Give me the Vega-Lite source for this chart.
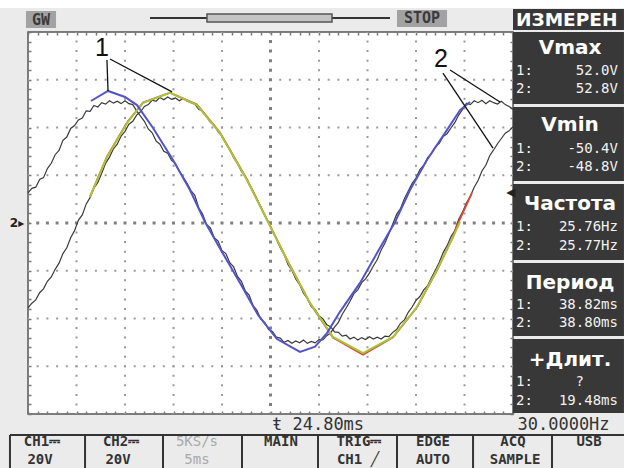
{
"$schema": "https://vega.github.io/schema/vega-lite/v6.json",
"width": 485, "height": 382,
"autosize": {"type": "none"},
"padding": {"left": 28, "top": 32, "right": 111, "bottom": 54},
"background": "#ebebeb",
"config": {"view": {"fill": "white", "stroke": "#555555", "strokeWidth": 1.5}},
"resolve": {"axis": {"x": "independent", "y": "independent"}},
"datasets": {
"whiteband": [{"x": -2.89, "x2": 61.44, "y": 93.4, "y2": 90.05}],
"gridV": [{"t": 5}, {"t": 10}, {"t": 15}, {"t": 20}, {"t": 30}, {"t": 35}, {"t": 40}, {"t": 45}],
"gridH": [{"v": -60}, {"v": -40}, {"v": -20}, {"v": 20}, {"v": 40}, {"v": 60}],
"centerV": [{"t": 25}],
"centerH": [{"v": 0}],
"ch1": [{"t":0.0,"v":12.6},{"t":0.4,"v":14.5},{"t":0.8,"v":15.0},{"t":1.2,"v":18.2},{"t":1.6,"v":19.0},{"t":2.0,"v":22.8},{"t":2.4,"v":25.0},{"t":2.8,"v":28.6},{"t":3.2,"v":30.4},{"t":3.6,"v":34.6},{"t":4.0,"v":36.0},{"t":4.4,"v":39.6},{"t":4.8,"v":40.8},{"t":5.2,"v":43.2},{"t":5.6,"v":44.0},{"t":6.0,"v":47.0},{"t":6.4,"v":46.8},{"t":6.8,"v":49.2},{"t":7.2,"v":48.6},{"t":7.6,"v":50.4},{"t":8.0,"v":49.8},{"t":8.4,"v":51.2},{"t":8.8,"v":50.2},{"t":9.2,"v":51.0},{"t":9.6,"v":50.0},{"t":10.0,"v":51.2},{"t":10.4,"v":50.0},{"t":10.8,"v":49.6},{"t":11.2,"v":47.0},{"t":11.6,"v":44.8},{"t":12.0,"v":42.6},{"t":12.4,"v":39.4},{"t":12.8,"v":37.8},{"t":13.2,"v":34.4},{"t":13.6,"v":33.0},{"t":14.0,"v":30.0},{"t":14.4,"v":29.2},{"t":14.8,"v":26.2},{"t":15.2,"v":25.0},{"t":15.6,"v":21.6},{"t":16.0,"v":19.2},{"t":16.4,"v":16.6},{"t":16.8,"v":13.6},{"t":17.2,"v":11.6},{"t":17.6,"v":6.4},{"t":18.0,"v":3.8},{"t":18.4,"v":-0.6},{"t":18.8,"v":-2.0},{"t":19.2,"v":-6.2},{"t":19.6,"v":-7.6},{"t":20.0,"v":-11.6},{"t":20.4,"v":-12.8},{"t":20.8,"v":-16.6},{"t":21.2,"v":-18.4},{"t":21.6,"v":-22.4},{"t":22.0,"v":-24.4},{"t":22.4,"v":-28.4},{"t":22.8,"v":-30.2},{"t":23.2,"v":-34.6},{"t":23.6,"v":-36.6},{"t":24.0,"v":-40.2},{"t":24.4,"v":-41.6},{"t":24.8,"v":-44.6},{"t":25.2,"v":-45.4},{"t":25.6,"v":-47.8},{"t":26.0,"v":-48.2},{"t":26.4,"v":-50.0},{"t":26.8,"v":-49.2},{"t":27.2,"v":-50.4},{"t":27.6,"v":-49.4},{"t":28.0,"v":-50.2},{"t":28.4,"v":-49.0},{"t":28.8,"v":-50.4},{"t":29.2,"v":-49.6},{"t":29.6,"v":-50.2},{"t":30.0,"v":-48.8},{"t":30.4,"v":-49.0},{"t":30.8,"v":-47.2},{"t":31.2,"v":-46.0},{"t":31.6,"v":-43.6},{"t":32.0,"v":-41.6},{"t":32.4,"v":-38.2},{"t":32.8,"v":-35.6},{"t":33.2,"v":-32.8},{"t":33.6,"v":-29.6},{"t":34.0,"v":-28.0},{"t":34.4,"v":-25.0},{"t":34.8,"v":-23.4},{"t":35.2,"v":-21.0},{"t":35.6,"v":-18.0},{"t":36.0,"v":-15.4},{"t":36.4,"v":-11.4},{"t":36.8,"v":-8.4},{"t":37.2,"v":-4.6},{"t":37.6,"v":-0.4},{"t":38.0,"v":3.6},{"t":38.4,"v":6.0},{"t":38.8,"v":10.2},{"t":39.2,"v":13.4},{"t":39.6,"v":16.6},{"t":40.0,"v":18.8},{"t":40.4,"v":22.4},{"t":40.8,"v":24.2},{"t":41.2,"v":27.4},{"t":41.6,"v":29.2},{"t":42.0,"v":32.0},{"t":42.4,"v":33.4},{"t":42.8,"v":36.2},{"t":43.2,"v":37.4},{"t":43.6,"v":39.8},{"t":44.0,"v":42.0},{"t":44.4,"v":45.2},{"t":44.8,"v":47.6},{"t":45.2,"v":50.2},{"t":45.6,"v":49.6},{"t":46.0,"v":51.2},{"t":46.4,"v":50.4},{"t":46.8,"v":51.4},{"t":47.2,"v":50.0},{"t":47.6,"v":51.2},{"t":48.0,"v":50.4},{"t":48.4,"v":49.8},{"t":48.8,"v":51.0},{"t":49.2,"v":49.6},{"t":49.6,"v":48.8},{"t":50.0,"v":47.6}],
"ch2": [{"t":0.0,"v":-35.6},{"t":0.4,"v":-33.6},{"t":0.8,"v":-32.2},{"t":1.2,"v":-29.2},{"t":1.6,"v":-27.6},{"t":2.0,"v":-24.4},{"t":2.4,"v":-22.6},{"t":2.8,"v":-19.4},{"t":3.2,"v":-16.8},{"t":3.6,"v":-12.8},{"t":4.0,"v":-10.4},{"t":4.4,"v":-6.2},{"t":4.8,"v":-3.2},{"t":5.2,"v":1.2},{"t":5.6,"v":3.4},{"t":6.0,"v":8.0},{"t":6.4,"v":10.6},{"t":6.8,"v":14.6},{"t":7.2,"v":17.0},{"t":7.6,"v":20.8},{"t":8.0,"v":25.0},{"t":8.4,"v":27.6},{"t":8.8,"v":31.0},{"t":9.2,"v":33.0},{"t":9.6,"v":36.4},{"t":10.0,"v":38.4},{"t":10.4,"v":41.4},{"t":10.8,"v":42.6},{"t":11.2,"v":45.2},{"t":11.6,"v":46.6},{"t":12.0,"v":48.8},{"t":12.4,"v":49.6},{"t":12.8,"v":51.4},{"t":13.2,"v":51.0},{"t":13.6,"v":52.6},{"t":14.0,"v":51.6},{"t":14.4,"v":52.8},{"t":14.8,"v":51.8},{"t":15.2,"v":52.4},{"t":15.6,"v":51.2},{"t":16.0,"v":52.2},{"t":16.4,"v":51.0},{"t":16.8,"v":50.4},{"t":17.2,"v":49.8},{"t":17.6,"v":47.6},{"t":18.0,"v":46.8},{"t":18.4,"v":44.6},{"t":18.8,"v":42.2},{"t":19.2,"v":41.0},{"t":19.6,"v":38.2},{"t":20.0,"v":36.4},{"t":20.4,"v":33.2},{"t":20.8,"v":31.0},{"t":21.2,"v":27.4},{"t":21.6,"v":25.0},{"t":22.0,"v":21.6},{"t":22.4,"v":19.6},{"t":22.8,"v":16.0},{"t":23.2,"v":13.4},{"t":23.6,"v":10.0},{"t":24.0,"v":6.8},{"t":24.4,"v":3.2},{"t":24.8,"v":0.2},{"t":25.2,"v":-3.6},{"t":25.6,"v":-6.6},{"t":26.0,"v":-10.4},{"t":26.4,"v":-13.2},{"t":26.8,"v":-17.4},{"t":27.2,"v":-19.8},{"t":27.6,"v":-23.4},{"t":28.0,"v":-25.8},{"t":28.4,"v":-29.4},{"t":28.8,"v":-31.6},{"t":29.2,"v":-35.0},{"t":29.6,"v":-36.2},{"t":30.0,"v":-38.8},{"t":30.4,"v":-40.2},{"t":30.8,"v":-42.6},{"t":31.2,"v":-43.4},{"t":31.6,"v":-45.6},{"t":32.0,"v":-45.8},{"t":32.4,"v":-47.4},{"t":32.8,"v":-47.0},{"t":33.2,"v":-48.6},{"t":33.6,"v":-47.8},{"t":34.0,"v":-49.0},{"t":34.4,"v":-48.0},{"t":34.8,"v":-48.8},{"t":35.2,"v":-47.6},{"t":35.6,"v":-48.6},{"t":36.0,"v":-47.8},{"t":36.4,"v":-48.6},{"t":36.8,"v":-47.4},{"t":37.2,"v":-47.6},{"t":37.6,"v":-45.8},{"t":38.0,"v":-44.6},{"t":38.4,"v":-42.0},{"t":38.8,"v":-40.6},{"t":39.2,"v":-37.4},{"t":39.6,"v":-35.2},{"t":40.0,"v":-32.4},{"t":40.4,"v":-30.8},{"t":40.8,"v":-28.0},{"t":41.2,"v":-26.2},{"t":41.6,"v":-22.8},{"t":42.0,"v":-19.8},{"t":42.4,"v":-16.4},{"t":42.8,"v":-12.4},{"t":43.2,"v":-9.6},{"t":43.6,"v":-5.8},{"t":44.0,"v":-3.2},{"t":44.4,"v":1.6},{"t":44.8,"v":4.6},{"t":45.2,"v":8.4},{"t":45.6,"v":11.2},{"t":46.0,"v":15.0},{"t":46.4,"v":17.8},{"t":46.8,"v":21.8},{"t":47.2,"v":24.2},{"t":47.6,"v":28.2},{"t":48.0,"v":30.6},{"t":48.4,"v":33.2},{"t":48.8,"v":35.4},{"t":49.2,"v":37.6},{"t":49.6,"v":38.6},{"t":50.0,"v":40.4}],
"fitRed": [{"t":6.39,"v":11.1},{"t":8.14,"v":27.8},{"t":10.21,"v":42.1},{"t":11.86,"v":50.5},{"t":14.64,"v":54.6},{"t":17.42,"v":49.6},{"t":19.79,"v":37.9},{"t":22.58,"v":18.2},{"t":24.64,"v":1.4},{"t":26.7,"v":-15.4},{"t":29.07,"v":-33.6},{"t":31.44,"v":-48.0},{"t":34.54,"v":-55.2},{"t":37.63,"v":-47.9},{"t":40.1,"v":-35.3},{"t":42.16,"v":-19.8},{"t":43.81,"v":-5.9},{"t":44.23,"v":-1.0},{"t":45.77,"v":12.6}],
"fitYellow": [{"t":6.39,"v":10.9},{"t":8.14,"v":27.6},{"t":10.21,"v":41.9},{"t":11.86,"v":50.3},{"t":14.64,"v":54.5},{"t":17.42,"v":49.4},{"t":19.79,"v":37.7},{"t":22.58,"v":18.0},{"t":24.64,"v":1.3},{"t":26.7,"v":-15.5},{"t":29.07,"v":-33.5},{"t":31.44,"v":-47.7},{"t":34.54,"v":-54.5},{"t":37.63,"v":-47.7},{"t":40.1,"v":-35.2},{"t":42.16,"v":-19.7},{"t":43.81,"v":-5.9},{"t":44.54,"v":0.4}],
"fitBlue": [{"t":6.49,"v":51.1},{"t":8.25,"v":55.3},{"t":10.0,"v":52.8},{"t":11.24,"v":49.4},{"t":12.89,"v":39.8},{"t":14.95,"v":26.4},{"t":16.7,"v":13.8},{"t":18.25,"v":0.4},{"t":20.0,"v":-12.1},{"t":21.86,"v":-25.1},{"t":23.71,"v":-38.5},{"t":25.67,"v":-48.6},{"t":28.04,"v":-54.0},{"t":29.59,"v":-51.8},{"t":30.82,"v":-46.1},{"t":32.16,"v":-37.2},{"t":34.23,"v":-25.1},{"t":35.98,"v":-12.6},{"t":37.84,"v":0.4},{"t":39.38,"v":13.8},{"t":41.13,"v":26.4},{"t":43.2,"v":39.0},{"t":44.54,"v":47.3},{"t":45.57,"v":50.7}],
"leaders": [{"x":8.14,"y":68.3,"x2":8.25,"y2":55.3},{"x":8.45,"y":68.7,"x2":14.85,"y2":54.9},{"x":43.51,"y":64.1,"x2":48.66,"y2":50.7},{"x":42.78,"y":62.8,"x2":47.94,"y2":31.4}],
"leaderLabels": [{"x":7.63,"y":73.5,"label":"1"},{"x":42.58,"y":68.9,"label":"2"}],
"panels": [{"x":50.0,"x2":61.44,"y":89.63,"y2":80.84},{"x":50.0,"x2":61.44,"y":80.0,"y2":49.84},{"x":50.0,"x2":61.44,"y":48.59,"y2":17.59},{"x":50.0,"x2":61.44,"y":16.34,"y2":-15.5},{"x":50.0,"x2":61.44,"y":-16.75,"y2":-47.33},{"x":50.0,"x2":61.44,"y":-48.59,"y2":-79.58}],
"grayBoxes": [{"x":-0.21,"x2":2.89,"y":88.8,"y2":81.68},{"x":38.04,"x2":43.2,"y":89.21,"y2":82.09}],
"slider": [{"x":18.45,"x2":31.34,"y":87.54,"y2":84.19}],
"topLine": [{"x":12.58,"x2":37.32,"y":85.86,"y2":85.86}],
"topTexts": [{"x":1.34,"y":85.03,"label":"GW"},{"x":40.62,"y":85.86,"label":"STOP"}],
"header": [{"x":50.31,"y":85.03,"label":"ИЗМЕРЕН"}],
"titles": [{"x":55.88,"y":73.3,"label":"Vmax"},{"x":55.88,"y":41.05,"label":"Vmin"},{"x":55.88,"y":7.96,"label":"Частота"},{"x":55.88,"y":-25.13,"label":"Период"},{"x":55.88,"y":-57.38,"label":"+Длит."}],
"prefixes": [{"x":50.31,"y":63.46,"label":"1:"},{"x":50.31,"y":55.92,"label":"2:"},{"x":50.31,"y":30.79,"label":"1:"},{"x":50.31,"y":23.25,"label":"2:"},{"x":50.31,"y":-1.88,"label":"1:"},{"x":50.31,"y":-9.84,"label":"2:"},{"x":50.31,"y":-34.55,"label":"1:"},{"x":50.31,"y":-42.09,"label":"2:"},{"x":50.31,"y":-66.39,"label":"1:"},{"x":50.31,"y":-74.35,"label":"2:"}],
"values": [{"x":60.82,"y":63.46,"label":"52.0V"},{"x":60.82,"y":55.92,"label":"52.8V"},{"x":60.82,"y":30.79,"label":"-50.4V"},{"x":60.82,"y":23.25,"label":"-48.8V"},{"x":60.82,"y":-1.88,"label":"25.76Hz"},{"x":60.82,"y":-9.84,"label":"25.77Hz"},{"x":60.82,"y":-34.55,"label":"38.82ms"},{"x":60.82,"y":-42.09,"label":"38.80ms"},{"x":57.32,"y":-66.39,"label":"?"},{"x":60.82,"y":-74.35,"label":"19.48ms"}],
"info": [{"x":29.9,"y":-84.61,"label":"ŧ 24.80ms"},{"x":55.21,"y":-84.61,"label":"30.0000Hz"}],
"buttonLines": [{"x":-1.86,"x2":61.44,"y":-88.8,"y2":-88.8},{"x":-1.86,"x2":-1.86,"y":-88.8,"y2":-102.62},{"x":5.88,"x2":5.88,"y":-88.8,"y2":-102.62},{"x":13.92,"x2":13.92,"y":-88.8,"y2":-102.62},{"x":22.06,"x2":22.06,"y":-88.8,"y2":-102.62},{"x":29.9,"x2":29.9,"y":-88.8,"y2":-102.62},{"x":38.04,"x2":38.04,"y":-88.8,"y2":-102.62},{"x":45.88,"x2":45.88,"y":-88.8,"y2":-102.62},{"x":54.02,"x2":54.02,"y":-88.8,"y2":-102.62}],
"buttons": [{"x":1.44,"y":-91.73,"label":"CH1⎓"},{"x":9.59,"y":-91.73,"label":"CH2⎓"},{"x":26.08,"y":-91.73,"label":"MAIN"},{"x":34.12,"y":-91.73,"label":"TRIG⎓"},{"x":41.75,"y":-91.73,"label":"EDGE"},{"x":50.0,"y":-91.73,"label":"ACQ"},{"x":57.84,"y":-91.73,"label":"USB"},{"x":1.24,"y":-99.06,"label":"20V"},{"x":9.28,"y":-99.06,"label":"20V"},{"x":34.02,"y":-99.06,"label":"CH1 ╱"},{"x":41.75,"y":-99.06,"label":"AUTO"},{"x":50.21,"y":-99.06,"label":"SAMPLE"}],
"buttonsGray": [{"x":17.42,"y":-91.73,"label":"5KS/s"},{"x":17.42,"y":-99.06,"label":"5ms"}],
"markers": [{"x":-1.13,"y":0,"label":"2▸"},{"x":49.79,"y":12.98,"label":"◀"}]
},
"layer": [
{"data": {"name": "whiteband"}, "mark": {"type": "rect", "fill": "white", "clip": false},
 "encoding": {"x": {"field": "x", "type": "quantitative", "scale": {"domain": [0, 50], "nice": false, "zero": false}, "axis": null}, "x2": {"field": "x2"}, "y": {"field": "y", "type": "quantitative", "scale": {"domain": [-80, 80], "nice": false, "zero": false}, "axis": null}, "y2": {"field": "y2"}}},
{"data": {"name": "gridV"}, "mark": {"type": "rule", "color": "#9a9a9a", "strokeWidth": 2, "strokeDash": [2, 7.55], "strokeDashOffset": 1},
 "encoding": {"x": {"field": "t", "type": "quantitative", "scale": {"domain": [0, 50], "nice": false, "zero": false}, "axis": {"orient": "bottom", "values": [0,1,2,3,4,5,6,7,8,9,10,11,12,13,14,15,16,17,18,19,20,21,22,23,24,25,26,27,28,29,30,31,32,33,34,35,36,37,38,39,40,41,42,43,44,45,46,47,48,49,50], "labels": false, "grid": false, "domain": false, "ticks": true, "tickSize": -3, "tickColor": "#777777", "tickWidth": 1.5, "title": null}}}},
{"data": {"name": "gridH"}, "mark": {"type": "rule", "color": "#9a9a9a", "strokeWidth": 2, "strokeDash": [2, 7.7], "strokeDashOffset": 1},
 "encoding": {"y": {"field": "v", "type": "quantitative", "scale": {"domain": [-80, 80], "nice": false, "zero": false}, "axis": {"orient": "left", "values": [-80,-76,-72,-68,-64,-60,-56,-52,-48,-44,-40,-36,-32,-28,-24,-20,-16,-12,-8,-4,0,4,8,12,16,20,24,28,32,36,40,44,48,52,56,60,64,68,72,76,80], "labels": false, "grid": false, "domain": false, "ticks": true, "tickSize": -3, "tickColor": "#777777", "tickWidth": 1.5, "title": null}}}},
{"data": {"name": "centerV"}, "mark": {"type": "rule", "color": "#808080", "strokeWidth": 3, "strokeDash": [3, 6.55], "strokeDashOffset": 1.5},
 "encoding": {"x": {"field": "t", "type": "quantitative", "scale": {"domain": [0, 50], "nice": false, "zero": false}, "axis": {"orient": "top", "values": [0,1,2,3,4,5,6,7,8,9,10,11,12,13,14,15,16,17,18,19,20,21,22,23,24,25,26,27,28,29,30,31,32,33,34,35,36,37,38,39,40,41,42,43,44,45,46,47,48,49,50], "labels": false, "grid": false, "domain": false, "ticks": true, "tickSize": -3, "tickColor": "#777777", "tickWidth": 1.5, "title": null}}}},
{"data": {"name": "centerH"}, "mark": {"type": "rule", "color": "#808080", "strokeWidth": 3, "strokeDash": [3, 6.7], "strokeDashOffset": 1.5},
 "encoding": {"y": {"field": "v", "type": "quantitative", "scale": {"domain": [-80, 80], "nice": false, "zero": false}, "axis": {"orient": "right", "values": [-80,-76,-72,-68,-64,-60,-56,-52,-48,-44,-40,-36,-32,-28,-24,-20,-16,-12,-8,-4,0,4,8,12,16,20,24,28,32,36,40,44,48,52,56,60,64,68,72,76,80], "labels": false, "grid": false, "domain": false, "ticks": true, "tickSize": -3, "tickColor": "#777777", "tickWidth": 1.5, "title": null}}}},
{"data": {"name": "ch1"}, "mark": {"type": "line", "color": "#3a3a3a", "strokeWidth": 1.2},
 "encoding": {"x": {"field": "t", "type": "quantitative", "scale": {"domain": [0, 50], "nice": false, "zero": false}, "axis": null}, "y": {"field": "v", "type": "quantitative", "scale": {"domain": [-80, 80], "nice": false, "zero": false}, "axis": null}}},
{"data": {"name": "ch2"}, "mark": {"type": "line", "color": "#3a3a3a", "strokeWidth": 1.2},
 "encoding": {"x": {"field": "t", "type": "quantitative", "scale": {"domain": [0, 50], "nice": false, "zero": false}, "axis": null}, "y": {"field": "v", "type": "quantitative", "scale": {"domain": [-80, 80], "nice": false, "zero": false}, "axis": null}}},
{"data": {"name": "fitRed"}, "mark": {"type": "line", "color": "#d9452f", "strokeWidth": 1.8},
 "encoding": {"x": {"field": "t", "type": "quantitative", "scale": {"domain": [0, 50], "nice": false, "zero": false}, "axis": null}, "y": {"field": "v", "type": "quantitative", "scale": {"domain": [-80, 80], "nice": false, "zero": false}, "axis": null}}},
{"data": {"name": "fitYellow"}, "mark": {"type": "line", "color": "#a9c43a", "strokeWidth": 2},
 "encoding": {"x": {"field": "t", "type": "quantitative", "scale": {"domain": [0, 50], "nice": false, "zero": false}, "axis": null}, "y": {"field": "v", "type": "quantitative", "scale": {"domain": [-80, 80], "nice": false, "zero": false}, "axis": null}}},
{"data": {"name": "fitBlue"}, "mark": {"type": "line", "color": "#5454c8", "strokeWidth": 2},
 "encoding": {"x": {"field": "t", "type": "quantitative", "scale": {"domain": [0, 50], "nice": false, "zero": false}, "axis": null}, "y": {"field": "v", "type": "quantitative", "scale": {"domain": [-80, 80], "nice": false, "zero": false}, "axis": null}}},
{"data": {"name": "leaders"}, "mark": {"type": "rule", "color": "#111111", "strokeWidth": 1.3, "clip": false},
 "encoding": {"x": {"field": "x", "type": "quantitative", "scale": {"domain": [0, 50], "nice": false, "zero": false}, "axis": null}, "x2": {"field": "x2"}, "y": {"field": "y", "type": "quantitative", "scale": {"domain": [-80, 80], "nice": false, "zero": false}, "axis": null}, "y2": {"field": "y2"}}},
{"data": {"name": "leaderLabels"}, "mark": {"type": "text", "font": "Liberation Sans", "fontSize": 25, "color": "#111111", "align": "center", "baseline": "middle", "clip": false},
 "encoding": {"x": {"field": "x", "type": "quantitative", "scale": {"domain": [0, 50], "nice": false, "zero": false}, "axis": null}, "y": {"field": "y", "type": "quantitative", "scale": {"domain": [-80, 80], "nice": false, "zero": false}, "axis": null}, "text": {"field": "label"}}},
{"data": {"name": "panels"}, "mark": {"type": "rect", "fill": "#383838", "clip": false},
 "encoding": {"x": {"field": "x", "type": "quantitative", "scale": {"domain": [0, 50], "nice": false, "zero": false}, "axis": null}, "x2": {"field": "x2"}, "y": {"field": "y", "type": "quantitative", "scale": {"domain": [-80, 80], "nice": false, "zero": false}, "axis": null}, "y2": {"field": "y2"}}},
{"data": {"name": "grayBoxes"}, "mark": {"type": "rect", "fill": "#a2a2a2", "clip": false},
 "encoding": {"x": {"field": "x", "type": "quantitative", "scale": {"domain": [0, 50], "nice": false, "zero": false}, "axis": null}, "x2": {"field": "x2"}, "y": {"field": "y", "type": "quantitative", "scale": {"domain": [-80, 80], "nice": false, "zero": false}, "axis": null}, "y2": {"field": "y2"}}},
{"data": {"name": "topLine"}, "mark": {"type": "rule", "color": "#333333", "strokeWidth": 2, "clip": false},
 "encoding": {"x": {"field": "x", "type": "quantitative", "scale": {"domain": [0, 50], "nice": false, "zero": false}, "axis": null}, "x2": {"field": "x2"}, "y": {"field": "y", "type": "quantitative", "scale": {"domain": [-80, 80], "nice": false, "zero": false}, "axis": null}, "y2": {"field": "y2"}}},
{"data": {"name": "slider"}, "mark": {"type": "rect", "fill": "#c4c4c4", "stroke": "#555555", "strokeWidth": 1.5, "clip": false},
 "encoding": {"x": {"field": "x", "type": "quantitative", "scale": {"domain": [0, 50], "nice": false, "zero": false}, "axis": null}, "x2": {"field": "x2"}, "y": {"field": "y", "type": "quantitative", "scale": {"domain": [-80, 80], "nice": false, "zero": false}, "axis": null}, "y2": {"field": "y2"}}},
{"data": {"name": "topTexts"}, "mark": {"type": "text", "font": "DejaVu Sans Mono", "fontWeight": "bold", "fontSize": 15, "color": "#3a3a3a", "align": "center", "baseline": "middle", "clip": false},
 "encoding": {"x": {"field": "x", "type": "quantitative", "scale": {"domain": [0, 50], "nice": false, "zero": false}, "axis": null}, "y": {"field": "y", "type": "quantitative", "scale": {"domain": [-80, 80], "nice": false, "zero": false}, "axis": null}, "text": {"field": "label"}}},
{"data": {"name": "header"}, "mark": {"type": "text", "font": "DejaVu Sans", "fontWeight": "bold", "fontSize": 18.5, "color": "white", "align": "left", "baseline": "middle", "clip": false},
 "encoding": {"x": {"field": "x", "type": "quantitative", "scale": {"domain": [0, 50], "nice": false, "zero": false}, "axis": null}, "y": {"field": "y", "type": "quantitative", "scale": {"domain": [-80, 80], "nice": false, "zero": false}, "axis": null}, "text": {"field": "label"}}},
{"data": {"name": "titles"}, "mark": {"type": "text", "font": "DejaVu Sans", "fontWeight": "bold", "fontSize": 20, "color": "white", "align": "center", "baseline": "middle", "clip": false},
 "encoding": {"x": {"field": "x", "type": "quantitative", "scale": {"domain": [0, 50], "nice": false, "zero": false}, "axis": null}, "y": {"field": "y", "type": "quantitative", "scale": {"domain": [-80, 80], "nice": false, "zero": false}, "axis": null}, "text": {"field": "label"}}},
{"data": {"name": "prefixes"}, "mark": {"type": "text", "font": "DejaVu Sans Mono", "fontSize": 14, "color": "#f2f2f2", "align": "left", "baseline": "middle", "clip": false},
 "encoding": {"x": {"field": "x", "type": "quantitative", "scale": {"domain": [0, 50], "nice": false, "zero": false}, "axis": null}, "y": {"field": "y", "type": "quantitative", "scale": {"domain": [-80, 80], "nice": false, "zero": false}, "axis": null}, "text": {"field": "label"}}},
{"data": {"name": "values"}, "mark": {"type": "text", "font": "DejaVu Sans Mono", "fontSize": 14, "color": "#f2f2f2", "align": "right", "baseline": "middle", "clip": false},
 "encoding": {"x": {"field": "x", "type": "quantitative", "scale": {"domain": [0, 50], "nice": false, "zero": false}, "axis": null}, "y": {"field": "y", "type": "quantitative", "scale": {"domain": [-80, 80], "nice": false, "zero": false}, "axis": null}, "text": {"field": "label"}}},
{"data": {"name": "info"}, "mark": {"type": "text", "font": "DejaVu Sans Mono", "fontSize": 17, "color": "#333333", "align": "center", "baseline": "middle", "clip": false},
 "encoding": {"x": {"field": "x", "type": "quantitative", "scale": {"domain": [0, 50], "nice": false, "zero": false}, "axis": null}, "y": {"field": "y", "type": "quantitative", "scale": {"domain": [-80, 80], "nice": false, "zero": false}, "axis": null}, "text": {"field": "label"}}},
{"data": {"name": "buttonLines"}, "mark": {"type": "rule", "color": "#333333", "strokeWidth": 2, "clip": false},
 "encoding": {"x": {"field": "x", "type": "quantitative", "scale": {"domain": [0, 50], "nice": false, "zero": false}, "axis": null}, "x2": {"field": "x2"}, "y": {"field": "y", "type": "quantitative", "scale": {"domain": [-80, 80], "nice": false, "zero": false}, "axis": null}, "y2": {"field": "y2"}}},
{"data": {"name": "buttons"}, "mark": {"type": "text", "font": "DejaVu Sans Mono", "fontWeight": "bold", "fontSize": 14, "color": "#333333", "align": "center", "baseline": "middle", "clip": false},
 "encoding": {"x": {"field": "x", "type": "quantitative", "scale": {"domain": [0, 50], "nice": false, "zero": false}, "axis": null}, "y": {"field": "y", "type": "quantitative", "scale": {"domain": [-80, 80], "nice": false, "zero": false}, "axis": null}, "text": {"field": "label"}}},
{"data": {"name": "buttonsGray"}, "mark": {"type": "text", "font": "DejaVu Sans Mono", "fontSize": 14, "color": "#a8a8a8", "align": "center", "baseline": "middle", "clip": false},
 "encoding": {"x": {"field": "x", "type": "quantitative", "scale": {"domain": [0, 50], "nice": false, "zero": false}, "axis": null}, "y": {"field": "y", "type": "quantitative", "scale": {"domain": [-80, 80], "nice": false, "zero": false}, "axis": null}, "text": {"field": "label"}}},
{"data": {"name": "markers"}, "mark": {"type": "text", "font": "DejaVu Sans", "fontWeight": "bold", "fontSize": 12, "color": "#222222", "align": "center", "baseline": "middle", "clip": false},
 "encoding": {"x": {"field": "x", "type": "quantitative", "scale": {"domain": [0, 50], "nice": false, "zero": false}, "axis": null}, "y": {"field": "y", "type": "quantitative", "scale": {"domain": [-80, 80], "nice": false, "zero": false}, "axis": null}, "text": {"field": "label"}}}
]
}
